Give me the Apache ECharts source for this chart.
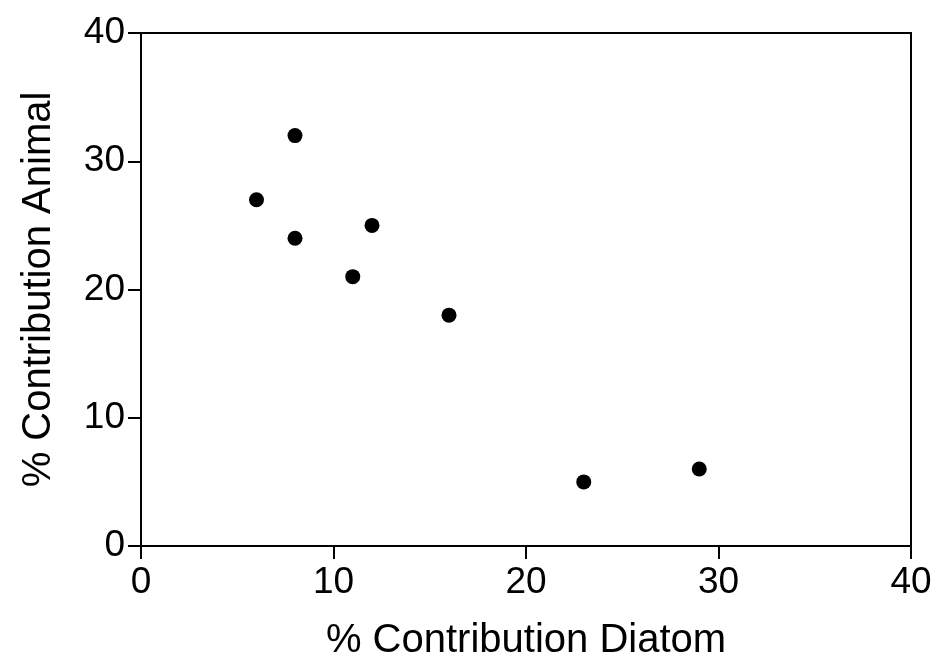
<!DOCTYPE html>
<html>
<head>
<meta charset="utf-8">
<script src="https://cdn.jsdelivr.net/npm/echarts@6/dist/echarts.min.js"></script>
<style>
html,body{margin:0;padding:0;background:#fff;}
#chart{width:946px;height:666px;}
</style>
</head>
<body>
<div id="chart"></div>
<script>
var diatom = [8, 6, 8, 12, 11, 16, 23, 29];
var animal = [32, 27, 24, 25, 21, 18, 5, 6];
var xTitle = '% Contribution Diatom';
var yTitle = '% Contribution Animal';
var axisMin = 0, axisMax = 40, axisStep = 10;

var points = diatom.map(function (d, i) { return [d, animal[i]]; });
var font = 'Liberation Sans, Arial, sans-serif';

var chart = echarts.init(document.getElementById('chart'), null, {renderer: 'canvas'});
chart.setOption({
  backgroundColor: '#ffffff',
  animation: false,
  grid: {left: 141, right: 35, top: 33, bottom: 118, show: true, borderColor: '#000', borderWidth: 2, backgroundColor: 'transparent'},
  xAxis: {
    type: 'value', min: axisMin, max: axisMax, interval: axisStep,
    name: xTitle, nameLocation: 'middle', nameGap: 75,
    nameTextStyle: {fontFamily: font, fontSize: 40, color: '#000'},
    axisLine: {show: true, onZero: false, lineStyle: {color: '#000', width: 2}},
    axisTick: {show: true, inside: false, length: 13, lineStyle: {color: '#000', width: 2}},
    axisLabel: {show: true, margin: 18, fontFamily: font, fontSize: 37, color: '#000', showMinLabel: true, showMaxLabel: true},
    splitLine: {show: false}
  },
  yAxis: {
    type: 'value', min: axisMin, max: axisMax, interval: axisStep,
    name: yTitle, nameLocation: 'middle', nameGap: 82,
    nameTextStyle: {fontFamily: font, fontSize: 40, color: '#000'},
    axisLine: {show: true, onZero: false, lineStyle: {color: '#000', width: 2}},
    axisTick: {show: true, inside: false, length: 13, lineStyle: {color: '#000', width: 2}},
    axisLabel: {show: true, margin: 16, fontFamily: font, fontSize: 37, color: '#000', showMinLabel: true, showMaxLabel: true},
    splitLine: {show: false}
  },
  series: [{
    type: 'scatter',
    data: points,
    symbol: 'circle',
    symbolSize: 15,
    itemStyle: {color: '#000', opacity: 1}
  }]
});
</script>
</body>
</html>
